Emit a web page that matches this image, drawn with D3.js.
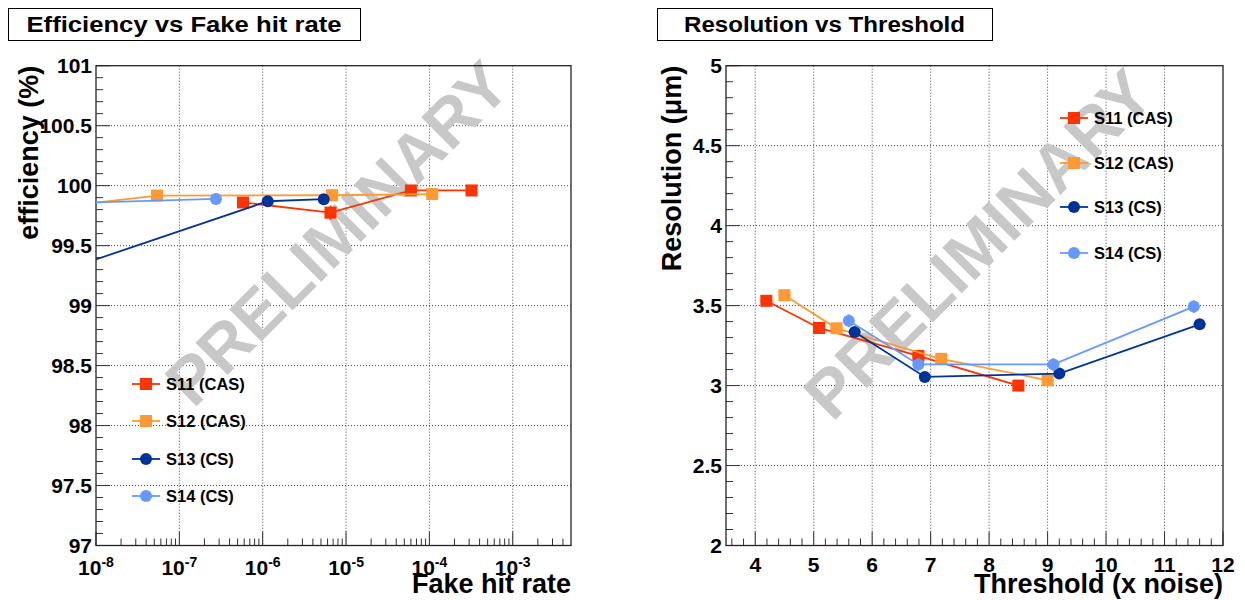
<!DOCTYPE html>
<html>
<head>
<meta charset="utf-8">
<script src="https://cdn.jsdelivr.net/npm/d3@7"></script>
<style>
html,body{margin:0;padding:0;background:#fff;}
svg{display:block;font-family:"Liberation Sans",Arial,Helvetica,sans-serif;font-weight:bold;}
</style>
</head>
<body>
<svg id="chart" width="1245" height="600"></svg>
<script>
// ---------- data ----------
const seriesNames = ["S11 (CAS)", "S12 (CAS)", "S13 (CS)", "S14 (CS)"];
const seriesColors = ["#ff3300", "#ff9933", "#003399", "#6699ff"];
const seriesShapes = ["square", "square", "circle", "circle"];

// Efficiency vs fake hit rate (first points of S12/S13/S14 lie left of the axis range)
const rateS11 = [5.8e-7, 6.5e-6, 6.0e-5, 3.2e-4];
const effS11 = [99.86, 99.775, 99.96, 99.96];
const effErrS11 = [0.015, 0.06, 0.015, 0.015];
const rateS12 = [1e-9, 5.4e-8, 6.8e-6, 1.08e-4];
const effS12 = [99.78, 99.917, 99.92, 99.93];
const effErrS12 = [0.02, 0.02, 0.05, 0.02];
const rateS13 = [1e-9, 1.15e-6, 5.4e-6];
const effS13 = [99.15, 99.87, 99.887];
const effErrS13 = [0.02, 0.04, 0.035];
const rateS14 = [1e-9, 2.75e-7];
const effS14 = [99.84, 99.889];
const effErrS14 = [0.02, 0.05];

// Resolution vs threshold
const thrS11 = [4.19, 5.09, 6.79, 8.5];
const resS11 = [3.53, 3.36, 3.185, 3.0];
const thrS12 = [4.5, 5.39, 7.18, 9.0];
const resS12 = [3.565, 3.358, 3.167, 3.033];
const thrS13 = [5.7, 6.9, 9.2, 11.6];
const resS13 = [3.335, 3.054, 3.075, 3.383];
const thrS14 = [5.6, 6.79, 9.1, 11.5];
const resS14 = [3.405, 3.132, 3.132, 3.494];
const resErr = [0.03, 0.03, 0.03, 0.04];
const thrErr = 0.1;

const effTicks = [97, 97.5, 98, 98.5, 99, 99.5, 100, 100.5, 101];
const effTickLabels = ["97", "97.5", "98", "98.5", "99", "99.5", "100", "100.5", "101"];
const rateDecades = [-8, -7, -6, -5, -4, -3];
const resTicks = [2, 2.5, 3, 3.5, 4, 4.5, 5];
const resTickLabels = ["2", "2.5", "3", "3.5", "4", "4.5", "5"];
const thrTicks = [4, 5, 6, 7, 8, 9, 10, 11, 12];

// ---------- drawing ----------
const svg = d3.select("#chart");
svg.append("rect").attr("width", 1245).attr("height", 600).attr("fill", "#fff");

function titleBox(x, y, w, h, text, tl) {
  svg.append("rect").attr("x", x + 0.5).attr("y", y + 0.5).attr("width", w).attr("height", h)
    .attr("fill", "#fff").attr("stroke", "#000").attr("stroke-width", 1);
  svg.append("text").attr("x", x + w / 2).attr("y", y + h / 2 + 8)
    .attr("text-anchor", "middle").attr("font-size", 22)
    .attr("textLength", tl).attr("lengthAdjust", "spacingAndGlyphs")
    .text(text);
}

function marker(g, shape, cx, cy, color) {
  if (shape === "square") {
    g.append("rect").attr("x", cx - 6).attr("y", cy - 6).attr("width", 12).attr("height", 12).attr("fill", color);
  } else {
    g.append("circle").attr("cx", cx).attr("cy", cy).attr("r", 6).attr("fill", color);
  }
}

function panel(opt) {
  const { x, y, xMinorTicks, xMajor, yMajor, yMinor, id } = opt;
  const [X0, X1] = x.range(), [Y1, Y0] = y.range();
  const g = svg.append("g");
  // grid
  const grid = g.append("g").attr("stroke", "#444").attr("stroke-width", 1).attr("stroke-dasharray", "1,2");
  xMajor.filter(v => Math.abs(x(v) - X0) > 1 && Math.abs(x(v) - X1) > 1).forEach(v => {
    grid.append("line").attr("x1", x(v)).attr("x2", x(v)).attr("y1", Y0).attr("y2", Y1);
  });
  yMajor.filter(v => Math.abs(y(v) - Y0) > 1 && Math.abs(y(v) - Y1) > 1).forEach(v => {
    grid.append("line").attr("x1", X0).attr("x2", X1).attr("y1", y(v)).attr("y2", y(v));
  });
  // watermark
  g.append("text").attr("transform", `translate(${opt.wm[0]},${opt.wm[1]}) rotate(${opt.wm[2]})`)
    .attr("text-anchor", "middle").attr("dy", "0.35em").attr("font-size", opt.wm[3])
    .attr("fill", "#c8c8c8").text("PRELIMINARY");
  // ticks
  const tk = g.append("g").attr("stroke", "#333").attr("stroke-width", 1);
  xMajor.forEach(v => tk.append("line").attr("x1", x(v)).attr("x2", x(v)).attr("y1", Y1).attr("y2", Y1 - 14));
  xMinorTicks.forEach(v => tk.append("line").attr("x1", x(v)).attr("x2", x(v)).attr("y1", Y1).attr("y2", Y1 - 7));
  yMajor.forEach(v => tk.append("line").attr("x1", X0).attr("x2", X0 + 14).attr("y1", y(v)).attr("y2", y(v)));
  yMinor.forEach(v => tk.append("line").attr("x1", X0).attr("x2", X0 + 7).attr("y1", y(v)).attr("y2", y(v)));
  // frame
  g.append("rect").attr("x", X0).attr("y", Y0).attr("width", X1 - X0).attr("height", Y1 - Y0)
    .attr("fill", "none").attr("stroke", "#222").attr("stroke-width", 1.3);
  // y labels
  yMajor.forEach((v, i) => g.append("text").attr("x", X0 - 4).attr("y", y(v)).attr("dy", "0.36em")
    .attr("text-anchor", "end").attr("font-size", 21).text(opt.yLabels[i]));
  // x labels
  opt.xLabelFn(g);
  // axis titles
  g.append("text").attr("transform", `translate(${opt.yTitleX},${Y0}) rotate(-90)`)
    .attr("text-anchor", "end").attr("font-size", 27).text(opt.yTitle);
  g.append("text").attr("x", X1).attr("y", 593).attr("text-anchor", "end").attr("font-size", 27).text(opt.xTitle);
  // clip
  svg.append("clipPath").attr("id", id).append("rect").attr("x", X0).attr("y", Y0).attr("width", X1 - X0).attr("height", Y1 - Y0);
  const dg = svg.append("g").attr("clip-path", `url(#${id})`);
  opt.series.forEach((s, k) => {
    const col = seriesColors[k];
    const line = d3.line().x(d => x(d.x)).y(d => y(d.y));
    const pts = s.xs.map((xv, i) => ({ x: xv, y: s.ys[i], e: s.es[i], xe: s.xe }));
    dg.append("path").attr("d", line(pts)).attr("fill", "none").attr("stroke", col).attr("stroke-width", 1.8);
    pts.forEach(p => {
      dg.append("line").attr("x1", x(p.x)).attr("x2", x(p.x)).attr("y1", y(p.y - p.e)).attr("y2", y(p.y + p.e))
        .attr("stroke", col).attr("stroke-width", 1.8);
      if (p.xe) dg.append("line").attr("x1", x(p.x - p.xe)).attr("x2", x(p.x + p.xe)).attr("y1", y(p.y)).attr("y2", y(p.y))
        .attr("stroke", col).attr("stroke-width", 1.8);
      marker(dg, seriesShapes[k], x(p.x), y(p.y), col);
    });
  });
  // legend
  const lg = svg.append("g");
  opt.legendYs.forEach((ly, k) => {
    const lx = opt.legendX;
    lg.append("line").attr("x1", lx - 14).attr("x2", lx + 14).attr("y1", ly).attr("y2", ly)
      .attr("stroke", seriesColors[k]).attr("stroke-width", 1.8);
    marker(lg, seriesShapes[k], lx, ly, seriesColors[k]);
    lg.append("text").attr("x", lx + 20).attr("y", ly).attr("dy", "0.36em").attr("font-size", 16.5).text(seriesNames[k]);
  });
}

titleBox(8, 8, 352, 32, "Efficiency vs Fake hit rate", 315);
titleBox(657, 8, 335, 32, "Resolution vs Threshold", 281);

// left panel
const xL = d3.scaleLog().domain([1e-8, 5e-3]).range([96, 571]);
const yL = d3.scaleLinear().domain([97, 101]).range([545.5, 65.7]);
const rateMinor = [];
rateDecades.forEach(d => { for (let m = 2; m <= 9; m++) { const v = m * Math.pow(10, d); if (v < 5e-3 * 0.999) rateMinor.push(v); } });
const effMinor = d3.range(97, 101.001, 0.1).filter(v => Math.abs(v * 2 - Math.round(v * 2)) > 1e-6);
panel({
  id: "clipL", x: xL, y: yL,
  xMajor: rateDecades.map(d => Math.pow(10, d)), xMinorTicks: rateMinor,
  yMajor: effTicks, yMinor: effMinor, yLabels: effTickLabels,
  xLabelFn: g => rateDecades.forEach(d => {
    const t = g.append("text").attr("x", xL(Math.pow(10, d))).attr("y", 575).attr("text-anchor", "middle").attr("font-size", 21);
    t.append("tspan").text("10");
    t.append("tspan").attr("font-size", 14).attr("dy", -8).text(String(d));
  }),
  yTitle: "efficiency (%)", yTitleX: 38, xTitle: "Fake hit rate",
  wm: [337, 233, -45, 66],
  series: [
    { xs: rateS11, ys: effS11, es: effErrS11 },
    { xs: rateS12, ys: effS12, es: effErrS12 },
    { xs: rateS13, ys: effS13, es: effErrS13 },
    { xs: rateS14, ys: effS14, es: effErrS14 }
  ],
  legendX: 146, legendYs: [384, 421, 459, 496]
});

// right panel
const xR = d3.scaleLinear().domain([3.5, 12]).range([726, 1223]);
const yR = d3.scaleLinear().domain([2, 5]).range([545.5, 65.7]);
const thrMinor = d3.range(3.6, 12.001, 0.2).filter(v => Math.abs(v - Math.round(v)) > 1e-6);
const resMinor = d3.range(2, 5.001, 0.1).filter(v => Math.abs(v * 2 - Math.round(v * 2)) > 1e-6);
panel({
  id: "clipR", x: xR, y: yR,
  xMajor: thrTicks, xMinorTicks: thrMinor,
  yMajor: resTicks, yMinor: resMinor, yLabels: resTickLabels,
  xLabelFn: g => thrTicks.forEach(v => {
    g.append("text").attr("x", xR(v)).attr("y", 572).attr("text-anchor", "middle").attr("font-size", 21).text(String(v));
  }),
  yTitle: "Resolution (\u03bcm)", yTitleX: 681, xTitle: "Threshold (x noise)",
  wm: [978, 244, -45, 67],
  series: [
    { xs: thrS11, ys: resS11, es: thrS11.map(() => resErr[0]), xe: thrErr },
    { xs: thrS12, ys: resS12, es: thrS12.map(() => resErr[1]), xe: thrErr },
    { xs: thrS13, ys: resS13, es: thrS13.map(() => resErr[2]), xe: thrErr },
    { xs: thrS14, ys: resS14, es: thrS14.map(() => resErr[3]), xe: thrErr }
  ],
  legendX: 1074, legendYs: [118, 163, 207, 253]
});
</script>
</body>
</html>
